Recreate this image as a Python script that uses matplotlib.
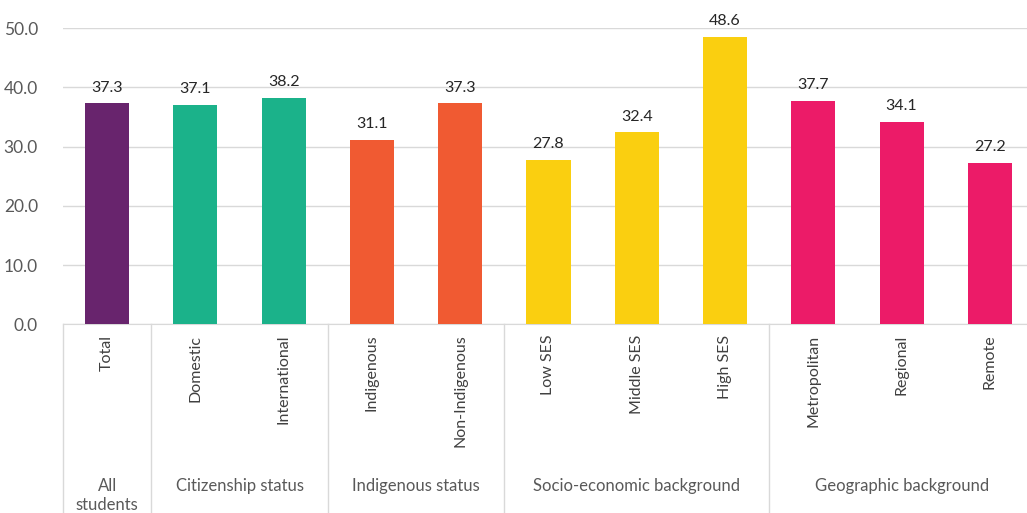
import numpy as np
import matplotlib
matplotlib.use('Agg')
import matplotlib.pyplot as plt

plt.rcParams['font.family'] = ['Lato', 'DejaVu Sans']

# data
categories = ['Total', 'Domestic', 'International', 'Indigenous', 'Non-Indigenous',
              'Low SES', 'Middle SES', 'High SES', 'Metropolitan', 'Regional', 'Remote']
values = [37.3, 37.1, 38.2, 31.1, 37.3, 27.8, 32.4, 48.6, 37.7, 34.1, 27.2]
groups = ['All\nstudents', 'Citizenship status', 'Indigenous status',
          'Socio-economic background', 'Geographic background']
group_sizes = [1, 2, 2, 3, 3]
group_colors = ['#68246D', '#1BB28A', '#F05A32', '#FACF10', '#EC1B68']

colors = []
for c, n in zip(group_colors, group_sizes):
    colors += [c] * n

fig = plt.figure(figsize=(10.27, 5.13), dpi=100)
# right edge runs slightly past the picture, as in the reference
ax = fig.add_axes([0.0613, 0.368, 0.9455, 0.577])

x = np.arange(len(categories))
bars = ax.bar(x, values, width=0.5, color=colors, zorder=3)
for xi, v in zip(x, values):
    ax.text(xi, v + 1.5, f'{v:.1f}', ha='center', va='bottom', fontsize=11.5, color='#262626')

ax.set_ylim(0, 50)
ax.set_xlim(-0.5, len(categories) - 0.5)
ax.set_yticks(np.arange(0, 51, 10))
ax.set_yticklabels([f'{t:.1f}' for t in np.arange(0, 51, 10)], fontsize=12.5, color='#595959')
ax.grid(axis='y', color='#D9D9D9', linewidth=1, zorder=0)
for s in ['top', 'right', 'left']:
    ax.spines[s].set_visible(False)
ax.spines['bottom'].set_color('#D9D9D9')
ax.tick_params(axis='y', length=0, pad=18)
ax.set_xticks([])

# category labels (rotated)
trans = ax.get_xaxis_transform()
for xi, lab in zip(x, categories):
    ax.text(xi, -0.035, lab, rotation=90, ha='center', va='top', fontsize=11.5,
            color='#404040', transform=trans, clip_on=False)

# group labels and separators
edges = np.concatenate([[0], np.cumsum(group_sizes)]) - 0.5
for i, g in enumerate(groups):
    mid = (edges[i] + edges[i + 1]) / 2
    ax.text(mid, -0.52, g, ha='center', va='top', fontsize=12, color='#595959',
            transform=trans, clip_on=False, linespacing=1.25)
for e in edges[:-1]:
    ax.plot([e, e], [0, -0.7], color='#D9D9D9', linewidth=1, transform=trans, clip_on=False)

fig.savefig('out.png', dpi=100)
